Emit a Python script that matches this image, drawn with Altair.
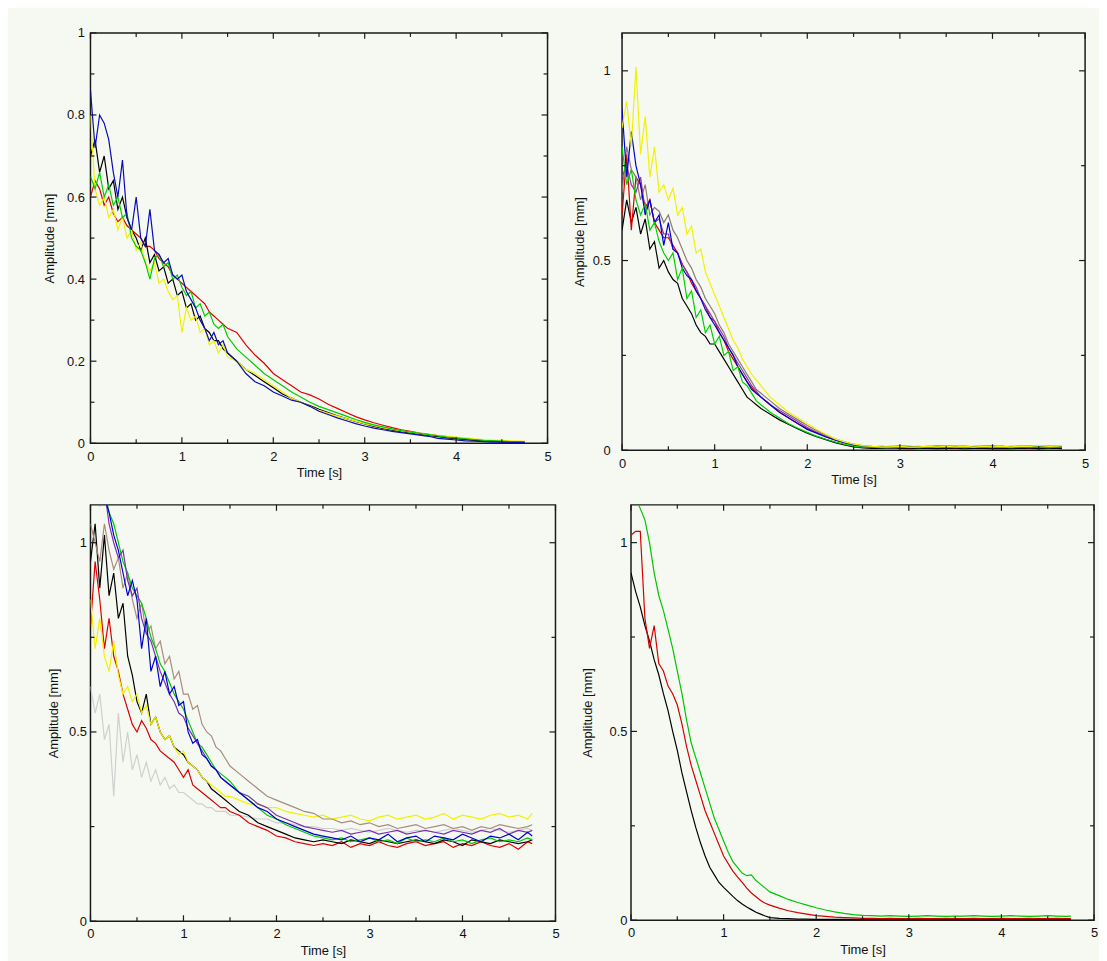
import altair as alt
import pandas as pd

FONT = "Liberation Sans"
BG = "#f5f9f2"
FRAME = "#1a1a1a"

# shared time grid [s]
T = [0.00, 0.05, 0.10, 0.15, 0.20, 0.25, 0.30, 0.35, 0.40, 0.45,
     0.50, 0.55, 0.60, 0.65, 0.70, 0.75, 0.80, 0.85, 0.90, 0.95,
     1.00, 1.05, 1.10, 1.15, 1.20, 1.25, 1.30, 1.35, 1.40, 1.45, 1.50,
     1.6, 1.7, 1.8, 1.9, 2.0, 2.1, 2.2, 2.3, 2.4, 2.5,
     2.6, 2.7, 2.8, 2.9, 3.0, 3.1, 3.2, 3.3, 3.4, 3.5,
     3.6, 3.7, 3.8, 3.9, 4.0, 4.1, 4.2, 4.3, 4.4, 4.5, 4.6, 4.7, 4.75]

X_MAJOR = [0, 1, 2, 3, 4, 5]
X_MINOR = [0.5, 1.5, 2.5, 3.5, 4.5]
Y1_MAJOR = [0, 0.2, 0.4, 0.6, 0.8, 1]
Y1_MINOR = [0.1, 0.3, 0.5, 0.7, 0.9]
Y_MAJOR = [0, 0.5, 1]
Y_MINOR = [0.25, 0.75]

# ---------------- panel 1 (top left) ----------------
P1_RED = [0.60, 0.64, 0.62, 0.58, 0.60, 0.56, 0.54, 0.55, 0.53, 0.52,
          0.51, 0.50, 0.48, 0.48, 0.47, 0.45, 0.44, 0.43, 0.41, 0.40,
          0.39, 0.38, 0.37, 0.36, 0.35, 0.34, 0.32, 0.31, 0.30, 0.29, 0.28,
          0.27, 0.24, 0.215, 0.195, 0.17, 0.155, 0.14, 0.125, 0.118, 0.108,
          0.095, 0.085, 0.075, 0.065, 0.057, 0.05, 0.044, 0.038, 0.033, 0.029,
          0.025, 0.022, 0.019, 0.016, 0.013, 0.011, 0.009, 0.007, 0.006, 0.005, 0.004, 0.003, 0.003]
P1_BLACK = [0.70, 0.74, 0.66, 0.70, 0.62, 0.64, 0.57, 0.60, 0.55, 0.52,
            0.50, 0.47, 0.50, 0.44, 0.46, 0.42, 0.43, 0.39, 0.40, 0.36,
            0.37, 0.33, 0.34, 0.30, 0.31, 0.28, 0.27, 0.25, 0.25, 0.23, 0.22,
            0.20, 0.18, 0.165, 0.15, 0.135, 0.12, 0.11, 0.10, 0.092, 0.083,
            0.075, 0.067, 0.06, 0.053, 0.047, 0.041, 0.036, 0.032, 0.028, 0.025,
            0.022, 0.019, 0.016, 0.013, 0.011, 0.009, 0.007, 0.006, 0.005, 0.004, 0.003, 0.003, 0.003]
P1_YELLOW = [0.80, 0.62, 0.58, 0.60, 0.55, 0.57, 0.52, 0.55, 0.50, 0.52,
             0.47, 0.49, 0.44, 0.42, 0.44, 0.39, 0.40, 0.37, 0.35, 0.36,
             0.27, 0.33, 0.30, 0.31, 0.27, 0.28, 0.24, 0.25, 0.22, 0.24, 0.21,
             0.20, 0.18, 0.17, 0.155, 0.14, 0.125, 0.11, 0.10, 0.09, 0.08,
             0.073, 0.066, 0.06, 0.054, 0.048, 0.043, 0.038, 0.034, 0.03, 0.027,
             0.024, 0.021, 0.019, 0.017, 0.015, 0.013, 0.011, 0.009, 0.008, 0.007, 0.006, 0.005, 0.005]
P1_GREEN = [0.65, 0.62, 0.66, 0.60, 0.63, 0.58, 0.60, 0.55, 0.56, 0.50,
            0.48, 0.47, 0.44, 0.40, 0.45, 0.46, 0.43, 0.44, 0.40, 0.41,
            0.38, 0.36, 0.37, 0.33, 0.34, 0.31, 0.32, 0.29, 0.28, 0.29, 0.26,
            0.23, 0.21, 0.19, 0.17, 0.155, 0.14, 0.125, 0.113, 0.10, 0.09,
            0.082, 0.074, 0.066, 0.058, 0.051, 0.045, 0.04, 0.035, 0.031, 0.027,
            0.024, 0.021, 0.018, 0.015, 0.013, 0.011, 0.009, 0.007, 0.006, 0.005, 0.004, 0.004, 0.003]
P1_BLUE = [0.86, 0.72, 0.80, 0.78, 0.74, 0.66, 0.60, 0.69, 0.55, 0.52,
           0.60, 0.50, 0.48, 0.57, 0.47, 0.46, 0.44, 0.45, 0.41, 0.40,
           0.41, 0.37, 0.35, 0.33, 0.30, 0.28, 0.25, 0.27, 0.24, 0.25, 0.22,
           0.20, 0.17, 0.15, 0.14, 0.125, 0.115, 0.105, 0.10, 0.09, 0.078,
           0.07, 0.062, 0.055, 0.048, 0.042, 0.037, 0.033, 0.029, 0.026, 0.023,
           0.02, 0.017, 0.012, 0.01, 0.008, 0.006, 0.005, 0.004, 0.003, 0.003, 0.002, 0.002, 0.002]

# ---------------- panel 2 (top right) ----------------
P2_BLACK = [0.58, 0.66, 0.60, 0.64, 0.57, 0.61, 0.53, 0.55, 0.48, 0.50,
            0.47, 0.45, 0.44, 0.40, 0.38, 0.36, 0.33, 0.31, 0.30, 0.28,
            0.28, 0.26, 0.24, 0.22, 0.20, 0.18, 0.16, 0.14, 0.13, 0.12, 0.11,
            0.095, 0.08, 0.068, 0.056, 0.045, 0.036, 0.028, 0.02, 0.014, 0.009,
            0.006, 0.005, 0.005, 0.006, 0.005, 0.004, 0.005, 0.005, 0.004, 0.005,
            0.005, 0.004, 0.005, 0.005, 0.004, 0.005, 0.004, 0.005, 0.005, 0.004, 0.005, 0.005, 0.004]
P2_RED = [0.62, 0.78, 0.58, 0.72, 0.70, 0.64, 0.66, 0.60, 0.58, 0.56,
          0.56, 0.54, 0.52, 0.49, 0.47, 0.44, 0.42, 0.40, 0.38, 0.35,
          0.34, 0.31, 0.29, 0.26, 0.24, 0.22, 0.20, 0.18, 0.165, 0.15, 0.14,
          0.12, 0.10, 0.085, 0.07, 0.057, 0.046, 0.036, 0.027, 0.02, 0.014,
          0.01, 0.009, 0.008, 0.009, 0.008, 0.007, 0.008, 0.009, 0.008, 0.008,
          0.007, 0.008, 0.009, 0.008, 0.007, 0.008, 0.009, 0.008, 0.007, 0.008, 0.009, 0.008, 0.008]
P2_GRAY = [0.68, 0.80, 0.74, 0.72, 0.66, 0.70, 0.62, 0.64, 0.63, 0.60,
           0.62, 0.58, 0.56, 0.53, 0.50, 0.48, 0.45, 0.43, 0.40, 0.38,
           0.36, 0.33, 0.31, 0.28, 0.26, 0.24, 0.22, 0.20, 0.18, 0.16, 0.15,
           0.13, 0.11, 0.095, 0.08, 0.065, 0.052, 0.04, 0.03, 0.022, 0.016,
           0.012, 0.01, 0.009, 0.01, 0.011, 0.009, 0.01, 0.009, 0.01, 0.011,
           0.01, 0.009, 0.01, 0.011, 0.01, 0.009, 0.01, 0.01, 0.011, 0.01, 0.009, 0.01, 0.01]
P2_PURPLE = [0.72, 0.75, 0.70, 0.68, 0.72, 0.63, 0.66, 0.60, 0.61, 0.57,
             0.57, 0.53, 0.52, 0.49, 0.47, 0.45, 0.43, 0.40, 0.38, 0.36,
             0.34, 0.32, 0.30, 0.27, 0.25, 0.23, 0.21, 0.19, 0.17, 0.155, 0.14,
             0.12, 0.105, 0.09, 0.075, 0.06, 0.048, 0.037, 0.028, 0.02, 0.014,
             0.011, 0.009, 0.01, 0.009, 0.011, 0.01, 0.009, 0.01, 0.011, 0.01,
             0.01, 0.011, 0.009, 0.01, 0.011, 0.01, 0.009, 0.011, 0.01, 0.01, 0.011, 0.01, 0.01]
P2_BLUE = [0.90, 0.72, 0.84, 0.75, 0.70, 0.62, 0.66, 0.60, 0.62, 0.54,
           0.60, 0.53, 0.52, 0.48, 0.46, 0.45, 0.42, 0.40, 0.37, 0.35,
           0.33, 0.31, 0.29, 0.27, 0.25, 0.22, 0.20, 0.18, 0.16, 0.15, 0.14,
           0.12, 0.10, 0.085, 0.07, 0.055, 0.045, 0.035, 0.027, 0.02, 0.014,
           0.008, 0.008, 0.009, 0.007, 0.008, 0.009, 0.008, 0.007, 0.009, 0.008,
           0.009, 0.008, 0.007, 0.009, 0.008, 0.01, 0.009, 0.008, 0.009, 0.01, 0.009, 0.008, 0.009]
P2_GREEN = [0.80, 0.70, 0.74, 0.66, 0.62, 0.65, 0.58, 0.60, 0.55, 0.52,
            0.50, 0.52, 0.45, 0.48, 0.40, 0.42, 0.35, 0.37, 0.31, 0.33,
            0.28, 0.30, 0.25, 0.26, 0.21, 0.22, 0.18, 0.17, 0.15, 0.13, 0.12,
            0.10, 0.085, 0.07, 0.058, 0.047, 0.037, 0.029, 0.022, 0.016, 0.011,
            0.008, 0.008, 0.007, 0.008, 0.009, 0.008, 0.007, 0.008, 0.008, 0.009,
            0.008, 0.007, 0.008, 0.008, 0.009, 0.008, 0.007, 0.008, 0.009, 0.008, 0.007, 0.008, 0.008]
P2_YELLOW = [0.85, 0.92, 0.80, 1.01, 0.78, 0.88, 0.72, 0.80, 0.68, 0.70,
             0.66, 0.69, 0.62, 0.64, 0.57, 0.59, 0.52, 0.53, 0.47, 0.44,
             0.41, 0.38, 0.35, 0.32, 0.29, 0.27, 0.24, 0.22, 0.20, 0.185, 0.17,
             0.14, 0.12, 0.10, 0.085, 0.07, 0.055, 0.042, 0.03, 0.022, 0.016,
             0.012, 0.01, 0.009, 0.009, 0.01, 0.008, 0.009, 0.01, 0.009, 0.01,
             0.009, 0.01, 0.008, 0.01, 0.009, 0.01, 0.009, 0.011, 0.01, 0.012, 0.01, 0.011, 0.012]

# ---------------- panel 3 (bottom left) ----------------
P3_LIGHTGRAY = [0.62, 0.55, 0.60, 0.48, 0.52, 0.33, 0.55, 0.42, 0.50, 0.40,
                0.44, 0.38, 0.42, 0.37, 0.40, 0.36, 0.38, 0.35, 0.36, 0.34,
                0.34, 0.33, 0.32, 0.31, 0.31, 0.30, 0.30, 0.29, 0.29, 0.29, 0.28,
                0.28, 0.275, 0.27, 0.27, 0.26, 0.26, 0.255, 0.25, 0.25, 0.245,
                0.245, 0.24, 0.245, 0.24, 0.235, 0.24, 0.245, 0.24, 0.235, 0.24,
                0.24, 0.235, 0.24, 0.245, 0.24, 0.235, 0.24, 0.245, 0.24, 0.235, 0.24, 0.245, 0.24]
P3_RED = [0.78, 0.95, 0.85, 0.72, 0.80, 0.70, 0.66, 0.60, 0.56, 0.52,
          0.50, 0.53, 0.51, 0.48, 0.47, 0.45, 0.44, 0.43, 0.42, 0.40,
          0.38, 0.40, 0.36, 0.35, 0.34, 0.33, 0.32, 0.31, 0.30, 0.30, 0.29,
          0.28, 0.26, 0.25, 0.24, 0.225, 0.22, 0.21, 0.205, 0.2, 0.205,
          0.2, 0.21, 0.195, 0.205, 0.2, 0.21, 0.2, 0.195, 0.205, 0.21,
          0.2, 0.205, 0.21, 0.195, 0.205, 0.2, 0.21, 0.2, 0.195, 0.205, 0.19, 0.21, 0.205]
P3_BLACK = [0.95, 1.05, 0.88, 1.02, 0.86, 0.92, 0.80, 0.84, 0.70, 0.65,
            0.58, 0.55, 0.60, 0.52, 0.54, 0.50, 0.48, 0.49, 0.46, 0.45,
            0.44, 0.42, 0.41, 0.40, 0.38, 0.37, 0.35, 0.34, 0.33, 0.32, 0.31,
            0.29, 0.28, 0.26, 0.25, 0.24, 0.23, 0.22, 0.215, 0.21, 0.215,
            0.21, 0.205, 0.215, 0.21, 0.205, 0.215, 0.21, 0.205, 0.21, 0.215,
            0.21, 0.205, 0.215, 0.21, 0.2, 0.215, 0.21, 0.205, 0.215, 0.21, 0.205, 0.21, 0.215]
P3_YELLOW = [0.85, 0.72, 0.80, 0.70, 0.66, 0.74, 0.65, 0.60, 0.62, 0.58,
             0.60, 0.55, 0.57, 0.52, 0.54, 0.50, 0.48, 0.49, 0.46, 0.44,
             0.45, 0.42, 0.41, 0.40, 0.38, 0.37, 0.36, 0.35, 0.34, 0.33, 0.33,
             0.32, 0.31, 0.31, 0.30, 0.30, 0.29, 0.285, 0.28, 0.275, 0.28,
             0.27, 0.275, 0.28, 0.27, 0.265, 0.275, 0.28, 0.27, 0.275, 0.28,
             0.27, 0.275, 0.285, 0.27, 0.28, 0.275, 0.27, 0.28, 0.285, 0.275, 0.28, 0.27, 0.285]
P3_BROWN = [1.05, 1.00, 0.95, 1.05, 0.98, 0.93, 0.96, 0.88, 0.92, 0.85,
            0.80, 0.84, 0.76, 0.78, 0.72, 0.74, 0.68, 0.70, 0.64, 0.66,
            0.60, 0.60, 0.56, 0.57, 0.52, 0.50, 0.49, 0.46, 0.45, 0.43, 0.41,
            0.39, 0.37, 0.35, 0.33, 0.32, 0.31, 0.30, 0.29, 0.285, 0.27,
            0.27, 0.26, 0.265, 0.255, 0.26, 0.25, 0.255, 0.245, 0.25, 0.255,
            0.245, 0.25, 0.255, 0.245, 0.25, 0.24, 0.25, 0.245, 0.255, 0.25, 0.245, 0.25, 0.255]
P3_GREEN = [1.12, 1.15, 1.10, 1.14, 1.08, 1.05, 1.00, 0.95, 0.92, 0.88,
            0.86, 0.84, 0.80, 0.75, 0.72, 0.68, 0.66, 0.63, 0.60, 0.58,
            0.56, 0.53, 0.50, 0.47, 0.46, 0.44, 0.42, 0.40, 0.39, 0.38, 0.37,
            0.34, 0.32, 0.30, 0.28, 0.27, 0.255, 0.245, 0.235, 0.225, 0.22,
            0.215, 0.22, 0.21, 0.215, 0.22, 0.21, 0.215, 0.205, 0.22, 0.21,
            0.215, 0.21, 0.22, 0.21, 0.215, 0.205, 0.215, 0.22, 0.21, 0.215, 0.21, 0.22, 0.215]
P3_BLUE = [1.20, 1.15, 1.18, 1.12, 1.08, 1.02, 0.98, 0.92, 0.86, 0.90,
           0.85, 0.72, 0.80, 0.66, 0.70, 0.62, 0.66, 0.60, 0.62, 0.57,
           0.58, 0.50, 0.47, 0.48, 0.44, 0.43, 0.41, 0.40, 0.38, 0.37, 0.36,
           0.34, 0.32, 0.30, 0.29, 0.27, 0.26, 0.25, 0.24, 0.23, 0.225,
           0.22, 0.215, 0.225, 0.21, 0.22, 0.215, 0.23, 0.21, 0.22, 0.225,
           0.21, 0.225, 0.22, 0.215, 0.23, 0.22, 0.21, 0.225, 0.22, 0.23, 0.215, 0.235, 0.225]
P3_PURPLE = [1.15, 1.20, 1.10, 1.14, 1.05, 1.00, 0.96, 0.98, 0.90, 0.86,
             0.88, 0.80, 0.76, 0.74, 0.70, 0.66, 0.63, 0.60, 0.58, 0.55,
             0.54, 0.51, 0.49, 0.47, 0.45, 0.43, 0.41, 0.40, 0.38, 0.37, 0.36,
             0.34, 0.33, 0.31, 0.30, 0.28, 0.27, 0.26, 0.25, 0.245, 0.24,
             0.235, 0.24, 0.23, 0.235, 0.24, 0.23, 0.235, 0.24, 0.23, 0.235,
             0.24, 0.235, 0.23, 0.24, 0.235, 0.23, 0.24, 0.235, 0.245, 0.23, 0.24, 0.235, 0.24]

# ---------------- panel 4 (bottom right) ----------------
P4_BLACK = [0.92, 0.87, 0.83, 0.78, 0.74, 0.69, 0.65, 0.60, 0.555, 0.50,
            0.45, 0.39, 0.34, 0.29, 0.245, 0.205, 0.17, 0.14, 0.12, 0.10,
            0.087, 0.075, 0.063, 0.052, 0.043, 0.035, 0.028, 0.021, 0.016, 0.011, 0.007,
            0.005, 0.004, 0.003, 0.003, 0.002, 0.002, 0.002, 0.002, 0.002, 0.002,
            0.002, 0.002, 0.002, 0.002, 0.002, 0.002, 0.002, 0.002, 0.002, 0.002,
            0.002, 0.002, 0.002, 0.002, 0.002, 0.002, 0.002, 0.002, 0.002, 0.002, 0.002, 0.002, 0.002]
P4_RED = [1.02, 1.03, 1.03, 0.80, 0.72, 0.78, 0.68, 0.66, 0.62, 0.60,
          0.57, 0.52, 0.46, 0.41, 0.37, 0.33, 0.29, 0.26, 0.23, 0.20,
          0.17, 0.15, 0.13, 0.115, 0.10, 0.085, 0.072, 0.062, 0.052, 0.045, 0.04,
          0.032, 0.025, 0.02, 0.016, 0.012, 0.01, 0.008, 0.007, 0.006, 0.005,
          0.005, 0.004, 0.005, 0.004, 0.004, 0.005, 0.004, 0.004, 0.005, 0.004,
          0.004, 0.005, 0.004, 0.004, 0.005, 0.004, 0.004, 0.005, 0.004, 0.004, 0.005, 0.004, 0.004]
P4_GREEN = [1.15, 1.12, 1.09, 1.06, 1.00, 0.92, 0.86, 0.82, 0.77, 0.72,
            0.66, 0.60, 0.53, 0.47, 0.43, 0.39, 0.35, 0.31, 0.27, 0.24,
            0.21, 0.18, 0.155, 0.14, 0.125, 0.118, 0.12, 0.105, 0.095, 0.085, 0.075,
            0.065, 0.055, 0.047, 0.04, 0.033, 0.027, 0.022, 0.018, 0.015, 0.013,
            0.012, 0.011, 0.012, 0.011, 0.01, 0.011, 0.012, 0.011, 0.01, 0.011,
            0.011, 0.012, 0.011, 0.01, 0.011, 0.012, 0.011, 0.01, 0.011, 0.012, 0.011, 0.01, 0.011]

MAJ = 6
MIN = 4


def make_panel(series, ymax, y_major, y_minor, w, h,
               ypad, yext, ytpad, xpad, xtpad):
    rows = []
    for k, (name, color, vals) in enumerate(series):
        for t, v in zip(T, vals):
            rows.append({"t": t, "v": v, "s": f"{k:02d}_{name}", "c": color})
    df = pd.DataFrame(rows)

    xenc = alt.X("t:Q",
                 scale=alt.Scale(domain=[0, 5], nice=False, zero=False),
                 axis=alt.Axis(values=X_MAJOR, format="~g", title="Time [s]",
                               ticks=False, domain=False, grid=False,
                               labelFlush=False, labelPadding=xpad,
                               titlePadding=xtpad))
    yenc = alt.Y("v:Q",
                 scale=alt.Scale(domain=[0, ymax], nice=False, zero=False),
                 axis=alt.Axis(values=y_major, format="~g",
                               title="Amplitude [mm]",
                               ticks=False, domain=False, grid=False,
                               labelPadding=ypad, minExtent=yext,
                               maxExtent=yext, titlePadding=ytpad))

    lines = alt.Chart(df).mark_line(clip=True, strokeWidth=1.2).encode(
        x=xenc, y=yenc,
        detail="s:N",
        color=alt.Color("c:N", scale=None, legend=None),
    )

    layers = [lines]
    for vals, ln in ((X_MAJOR, MAJ), (X_MINOR, MIN)):
        d = pd.DataFrame({"t": vals})
        layers.append(alt.Chart(d).mark_rule(color=FRAME, strokeWidth=1.2).encode(
            x=xenc, y=alt.value(h), y2=alt.value(h - ln)))
        layers.append(alt.Chart(d).mark_rule(color=FRAME, strokeWidth=1.2).encode(
            x=xenc, y=alt.value(0), y2=alt.value(ln)))
    for vals, ln in ((y_major, MAJ), (y_minor, MIN)):
        d = pd.DataFrame({"v": vals})
        layers.append(alt.Chart(d).mark_rule(color=FRAME, strokeWidth=1.2).encode(
            y=yenc, x=alt.value(0), x2=alt.value(ln)))
        layers.append(alt.Chart(d).mark_rule(color=FRAME, strokeWidth=1.2).encode(
            y=yenc, x=alt.value(w), x2=alt.value(w - ln)))
    return alt.layer(*layers).properties(width=w, height=h)


p1 = make_panel([("red", "#e00000", P1_RED), ("black", "#000000", P1_BLACK),
                 ("yellow", "#f2f200", P1_YELLOW), ("green", "#00cc00", P1_GREEN),
                 ("blue", "#0a0ab8", P1_BLUE)],
                1.0, Y1_MAJOR, Y1_MINOR, 460, 413, 6, 26, 8.5, 7, 3)
p2 = make_panel([("black", "#000000", P2_BLACK), ("red", "#d40000", P2_RED),
                 ("gray", "#8c7c70", P2_GRAY), ("purple", "#9038a8", P2_PURPLE),
                 ("blue", "#0000d0", P2_BLUE), ("green", "#00d000", P2_GREEN),
                 ("yellow", "#f2f200", P2_YELLOW)],
                1.1, Y_MAJOR, Y_MINOR, 466, 420, 12, 31, 5, 7, 3)
p3 = make_panel([("lightgray", "#cfcfcf", P3_LIGHTGRAY), ("red", "#dd0000", P3_RED),
                 ("black", "#000000", P3_BLACK), ("yellow", "#f2f200", P3_YELLOW),
                 ("brown", "#a88c7c", P3_BROWN), ("green", "#00c800", P3_GREEN),
                 ("purple", "#7a30b0", P3_PURPLE), ("blue", "#0000cc", P3_BLUE)],
                1.1, Y_MAJOR, Y_MINOR, 468, 419, 4, 24, 6.5, 6, 5)
p4 = make_panel([("black", "#000000", P4_BLACK), ("red", "#d40000", P4_RED),
                 ("green", "#00c400", P4_GREEN)],
                1.1, Y_MAJOR, Y_MINOR, 466, 418, 4, 24, 12.5, 6, 5)

top = alt.hconcat(p1, p2, spacing=20)
bottom = alt.hconcat(p3, p4, spacing=20)

chart = alt.vconcat(top, bottom, spacing=16).properties(
    padding={"left": 34, "top": 15, "right": 0, "bottom": 0}
).configure(
    background=BG
).configure_view(
    stroke=FRAME, strokeWidth=1.5, fill=BG
).configure_axis(
    labelFont=FONT, titleFont=FONT, labelFontSize=13, titleFontSize=13,
    titleFontWeight="normal", labelColor="#111111", titleColor="#111111"
)

chart.save("out.html", embed_options={"renderer": "svg", "actions": False})
